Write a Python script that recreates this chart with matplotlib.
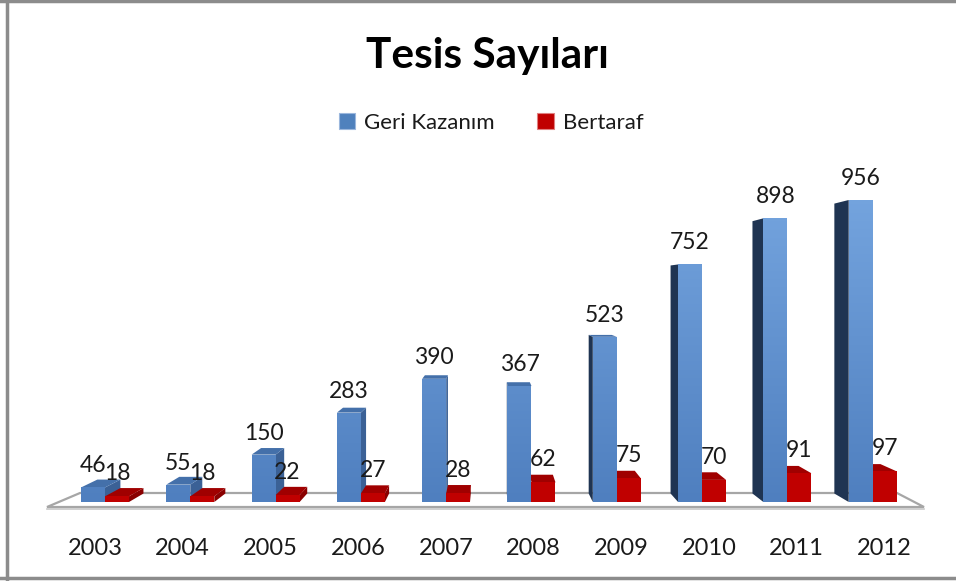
import matplotlib
matplotlib.use("Agg")
import matplotlib.pyplot as plt
import numpy as np
from matplotlib.patches import Polygon, Rectangle, Patch
from matplotlib.colors import LinearSegmentedColormap

plt.rcParams['font.family'] = ['Lato', 'DejaVu Sans']

years = ['2003', '2004', '2005', '2006', '2007', '2008', '2009', '2010', '2011', '2012']
geri_kazanim = [46, 55, 150, 283, 390, 367, 523, 752, 898, 956]
bertaraf = [18, 18, 22, 27, 28, 62, 75, 70, 91, 97]
series_names = ['Geri Kazanım', 'Bertaraf']
title = 'Tesis Sayıları'

W, H = 956, 581
fig = plt.figure(figsize=(W / 100, H / 100), dpi=100)
fig.patch.set_facecolor('white')

# axes layout in pixels
ax_left, ax_right = 45, 924
ax_bottom_img, ax_top_img = 502, 180
px_per_unit = (502 - 200) / 956.0
ax = fig.add_axes([ax_left / W, (H - ax_bottom_img) / H,
                   (ax_right - ax_left) / W, (ax_bottom_img - ax_top_img) / H])
ax.set_facecolor('none')
x0_px, step_px = 105.0, 85.3
ax.set_xlim((ax_left - x0_px) / step_px, (ax_right - x0_px) / step_px)
ax.set_ylim(0, (ax_bottom_img - ax_top_img) / px_per_unit)
for s in ax.spines.values():
    s.set_visible(False)
ax.set_yticks([])

def img2ax(px, py):
    return ((px - ax_left) / (ax_right - ax_left),
            (ax_bottom_img - py) / (ax_bottom_img - ax_top_img))

# floor (decorative)
floor = [img2ax(47, 507), img2ax(924, 507), img2ax(897, 493), img2ax(80, 493)]
ax.add_patch(Polygon(floor, closed=True, facecolor='white', edgecolor='#a6a6a6',
                     lw=1.6, transform=ax.transAxes, zorder=1, clip_on=False))
ax.plot([img2ax(47, 509)[0], img2ax(924, 509)[0]], [img2ax(47, 509)[1]] * 2,
        color='#c8c8c8', lw=1.2, transform=ax.transAxes, clip_on=False, zorder=1)

fig.canvas.draw()
vp = np.array([490.0, H - 290.0])  # vanishing point in display coords
t = 0.04

def back(pt):
    d = ax.transData.transform(pt)
    b = d + t * (vp - d)
    return ax.transData.inverted().transform(b)

bw = 24 / step_px
blue_grad = LinearSegmentedColormap.from_list('bg', ['#4f7fbf', '#76a6e0'])

def back_faces(xl, h, top_col, rside_col, lside_col, zz, allow_left=True):
    xr = xl + bw
    fl0, fr0, fr1, fl1 = (xl, 0), (xr, 0), (xr, h), (xl, h)
    bl0, br0, br1, bl1 = back(fl0), back(fr0), back(fr1), back(fl1)
    if br1[0] > xr:
        ax.add_patch(Polygon([fr0, fr1, br1, br0], closed=True, facecolor=rside_col,
                             edgecolor='none', zorder=zz))
    elif bl1[0] < xl and allow_left:
        ax.add_patch(Polygon([fl0, fl1, bl1, bl0], closed=True, facecolor=lside_col,
                             edgecolor='none', zorder=zz))
    if bl1[1] > h:
        ax.add_patch(Polygon([fl1, fr1, br1, bl1], closed=True, facecolor=top_col,
                             edgecolor='none', zorder=zz))

def front_face(xl, h, col, zz, gradient=None):
    rect = Rectangle((xl, 0), bw, h, facecolor=col, edgecolor='none', zorder=zz)
    ax.add_patch(rect)
    if gradient is not None:
        ytop = ax.get_ylim()[1]
        grad = np.linspace(1, 0, 256).reshape(-1, 1)
        im = ax.imshow(grad, cmap=gradient, extent=(xl, xl + bw, 0, ytop), aspect='auto',
                       zorder=zz + 0.05, interpolation='bilinear')
        im.set_clip_path(rect)

for i in range(len(years)):
    zb = 2 + i * 10
    red_goes_left = back((i + bw, bertaraf[i]))[0] < i + bw
    if red_goes_left:
        back_faces(i, bertaraf[i], '#a00000', '#8a0000', '#6a0000', zb, allow_left=False)
        back_faces(i - bw, geri_kazanim[i], '#4470aa', '#3b6196', '#1f3452', zb + 1)
        front_face(i - bw, geri_kazanim[i], '#5b8bcb', zb + 2, gradient=blue_grad)
    else:
        back_faces(i - bw, geri_kazanim[i], '#4470aa', '#3b6196', '#1f3452', zb)
        front_face(i - bw, geri_kazanim[i], '#5b8bcb', zb + 1, gradient=blue_grad)
        back_faces(i, bertaraf[i], '#a00000', '#8a0000', '#6a0000', zb + 2, allow_left=False)
    front_face(i, bertaraf[i], '#c00000', zb + 3)
    ax.annotate(str(geri_kazanim[i]), (i - bw / 2, geri_kazanim[i]), xytext=(0, 15),
                textcoords='offset pixels', ha='center', va='baseline', fontsize=16.5,
                color='#1a1a1a', zorder=500)
    ax.annotate(str(bertaraf[i]), (i + bw / 2, bertaraf[i]), xytext=(0, 16),
                textcoords='offset pixels', ha='center', va='baseline', fontsize=16.5,
                color='#1a1a1a', zorder=500)

# year labels
label_step = 87.7 / step_px
xt = [(95 - x0_px) / step_px + k * label_step for k in range(len(years))]
ax.set_xticks(xt)
ax.set_xticklabels(years, fontsize=17, color='#1a1a1a')
ax.tick_params(axis='x', length=0, pad=26)

# title
fig.text(487 / W, 1 - 56 / H, title, ha='center', va='center', fontsize=30.5,
         fontweight='bold', color='black')

# legend
handles = [Patch(facecolor='#4f81bd', edgecolor='#9bb7dd', lw=0.8),
           Patch(facecolor='#c00000', edgecolor='#e08080', lw=0.8)]
fig.legend(handles, series_names, loc='center', bbox_to_anchor=(491 / W, 1 - 123 / H),
           ncol=2, frameon=False, fontsize=16, handlelength=0.75, handleheight=0.75,
           handletextpad=0.4, columnspacing=1.9, labelcolor='#1a1a1a')

# border
fig.add_artist(plt.Line2D([7 / W, 7 / W], [0, 1], color='#8c8c8c', lw=2.5,
                          transform=fig.transFigure))
fig.add_artist(plt.Line2D([0, 1], [1 - 1 / H, 1 - 1 / H], color='#8c8c8c', lw=2.5,
                          transform=fig.transFigure))
fig.add_artist(plt.Line2D([0, 1], [1 - 578 / H, 1 - 578 / H], color='#8c8c8c', lw=2.5,
                          transform=fig.transFigure))

fig.savefig('out.png', dpi=100, facecolor='white')
